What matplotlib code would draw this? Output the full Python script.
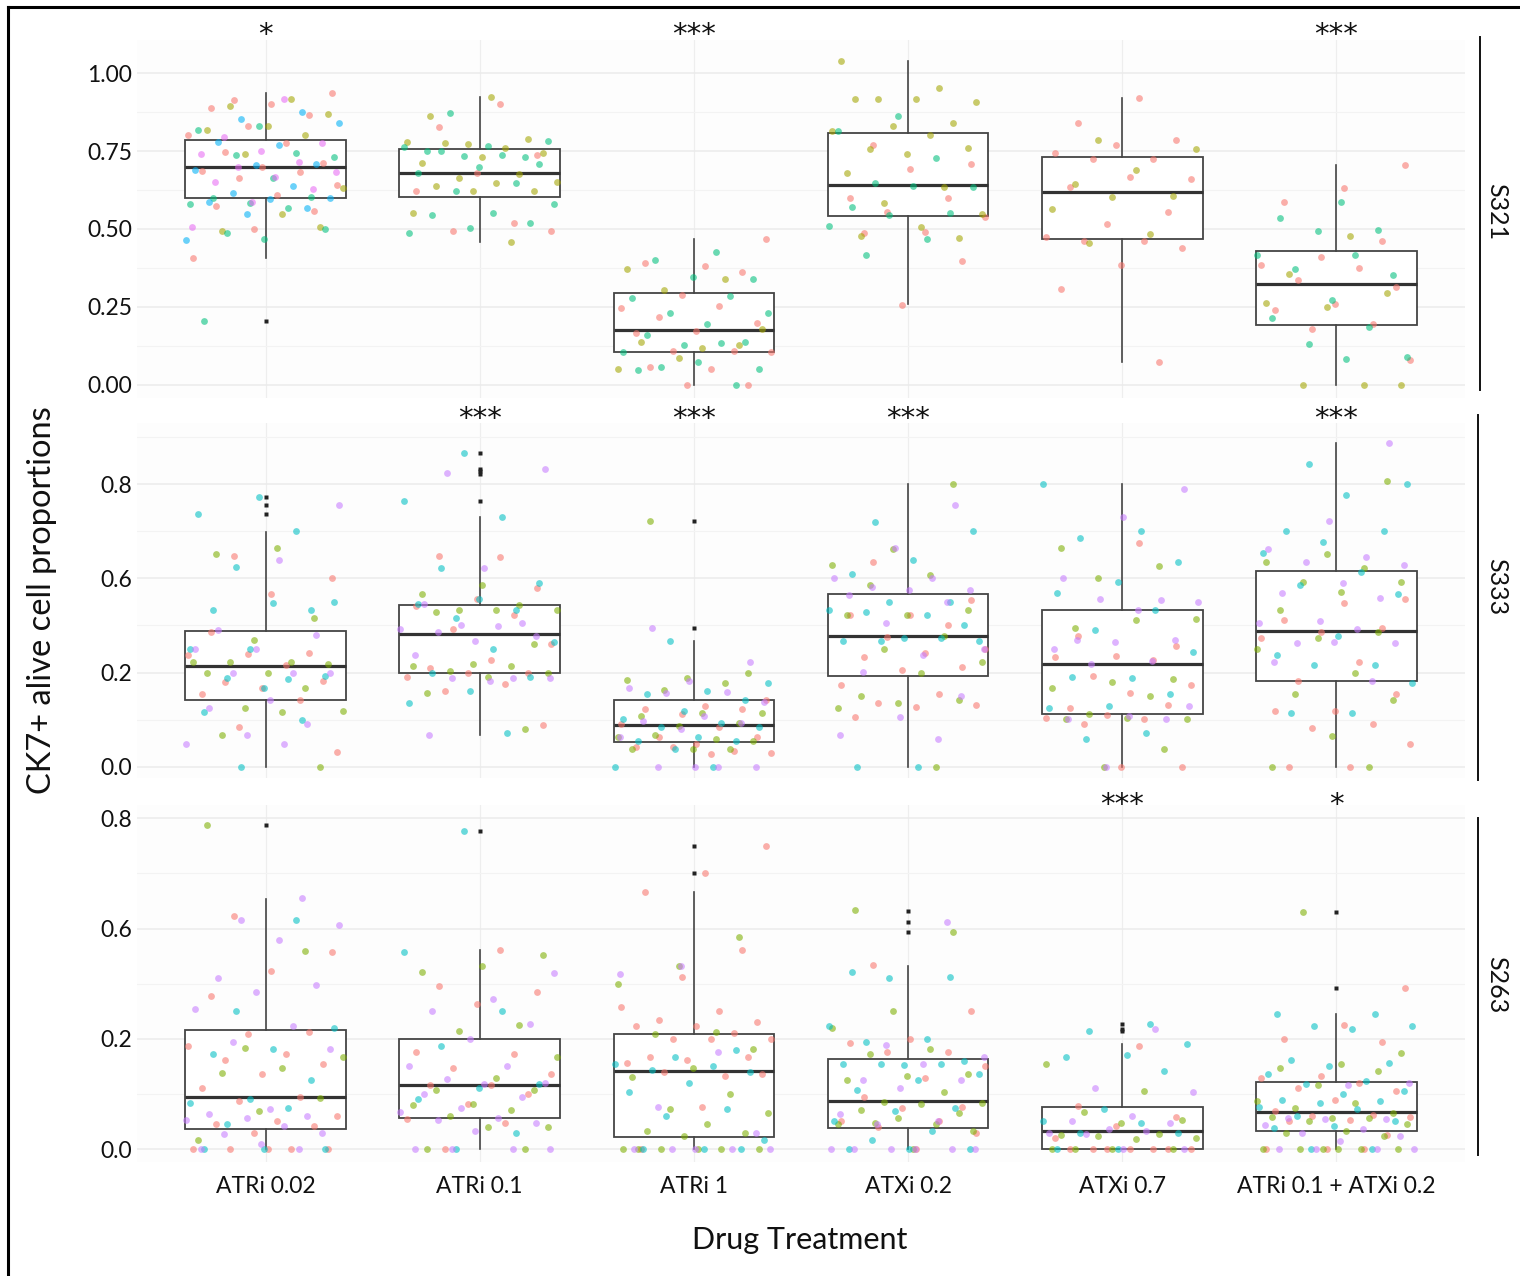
import numpy as np
import matplotlib.pyplot as plt
from matplotlib.lines import Line2D

plt.rcParams['font.family'] = ['Lato', 'DejaVu Sans']

cats = ["ATRi 0.02", "ATRi 0.1", "ATRi 1", "ATXi 0.2", "ATXi 0.7", "ATRi 0.1 + ATXi 0.2"]
panels = ["S321", "S333", "S263"]

# ---- S321 (five replicate colours) ----
s321_red = [
  [0.913, 0.935, 0.90, 0.887, 0.867, 0.83, 0.80, 0.775, 0.748, 0.713, 0.698, 0.686, 0.684, 0.663, 0.642, 0.609, 0.574, 0.558, 0.499, 0.408],
  [0.90, 0.827, 0.738, 0.68, 0.623, 0.518, 0.495, 0.492],
  [0.469, 0.382, 0.39, 0.361, 0.288, 0.246, 0.253, 0.217, 0.20, 0.174, 0.166, 0.11, 0.11, 0.105, 0.052, 0.059, 0.001, 0.001],
  [0.769, 0.707, 0.693, 0.598, 0.598, 0.556, 0.54, 0.489, 0.486, 0.398, 0.256],
  [0.921, 0.84, 0.785, 0.768, 0.744, 0.726, 0.723, 0.659, 0.667, 0.636, 0.556, 0.517, 0.473, 0.46, 0.46, 0.438, 0.384, 0.308, 0.073],
  [0.705, 0.63, 0.587, 0.463, 0.41, 0.384, 0.376, 0.335, 0.313, 0.259, 0.241, 0.194, 0.179, 0.081],
]
s321_olive = [
  [0.917, 0.894, 0.87, 0.83, 0.817, 0.80, 0.742, 0.632, 0.548, 0.495, 0.505],
  [0.924, 0.861, 0.787, 0.772, 0.778, 0.761, 0.777, 0.745, 0.73, 0.71, 0.676, 0.662, 0.652, 0.646, 0.638, 0.623, 0.623, 0.552, 0.457],
  [0.372, 0.339, 0.304, 0.178, 0.119, 0.138, 0.128, 0.087, 0.052],
  [1.038, 0.951, 0.918, 0.906, 0.917, 0.918, 0.84, 0.83, 0.814, 0.80, 0.756, 0.761, 0.742, 0.678, 0.634, 0.582, 0.547, 0.505, 0.478, 0.472],
  [0.784, 0.755, 0.69, 0.644, 0.605, 0.603, 0.564, 0.484, 0.456],
  [0.478, 0.357, 0.294, 0.251, 0.263, 0.001, 0.001, 0.001],
]
s321_green = [
  [0.83, 0.816, 0.745, 0.737, 0.73, 0.662, 0.598, 0.604, 0.584, 0.579, 0.566, 0.486, 0.499, 0.468, 0.205],
  [0.871, 0.783, 0.766, 0.751, 0.732, 0.734, 0.762, 0.738, 0.751, 0.708, 0.70, 0.68, 0.648, 0.623, 0.579, 0.552, 0.546, 0.52, 0.502, 0.486],
  [0.426, 0.40, 0.339, 0.345, 0.278, 0.285, 0.232, 0.232, 0.196, 0.16, 0.139, 0.128, 0.107, 0.135, 0.057, 0.051, 0.075, 0.048, 0.001],
  [0.863, 0.815, 0.729, 0.648, 0.636, 0.639, 0.571, 0.55, 0.544, 0.511, 0.469, 0.416],
  [],
  [0.588, 0.535, 0.496, 0.495, 0.416, 0.416, 0.371, 0.353, 0.272, 0.214, 0.187, 0.13, 0.09, 0.084],
]
s321_blue = [
  [0.876, 0.854, 0.839, 0.77, 0.78, 0.707, 0.706, 0.69, 0.639, 0.614, 0.60, 0.596, 0.588, 0.568, 0.547, 0.465],
  [], [], [], [], [],
]
s321_violet = [
  [0.917, 0.796, 0.777, 0.75, 0.742, 0.716, 0.70, 0.682, 0.668, 0.652, 0.628, 0.588, 0.507],
  [], [], [], [], [],
]
s321_med = [0.70, 0.681, 0.175, 0.64, 0.62, 0.325]
s321_q1 = [0.598, 0.601, 0.106, 0.542, 0.468, 0.192]
s321_q3 = [0.785, 0.757, 0.296, 0.807, 0.73, 0.428]
s321_lo = [0.408, 0.459, 0.0, 0.259, 0.073, 0.0]
s321_hi = [0.935, 0.924, 0.469, 1.038, 0.921, 0.705]
s321_out = [[0.205], [], [], [], [], []]
s321_sig = ["*", "", "***", "", "", "***"]

# ---- S333 (four replicate colours) ----
s333_red = [
  [0.597, 0.534, 0.488, 0.38, 0.321, 0.319, 0.316, 0.287, 0.24, 0.242, 0.223, 0.206, 0.19, 0.113, 0.041],
  [0.594, 0.597, 0.507, 0.476, 0.455, 0.429, 0.39, 0.348, 0.301, 0.28, 0.266, 0.264, 0.254, 0.234, 0.214, 0.117],
  [0.19, 0.173, 0.162, 0.162, 0.148, 0.121, 0.113, 0.083, 0.085, 0.063, 0.057, 0.045, 0.055, 0.04, 0.035],
  [0.58, 0.471, 0.43, 0.429, 0.40, 0.368, 0.333, 0.321, 0.31, 0.281, 0.274, 0.232, 0.206, 0.181, 0.174, 0.169, 0.141],
  [0.632, 0.37, 0.343, 0.313, 0.311, 0.303, 0.256, 0.231, 0.21, 0.165, 0.175, 0.147, 0.139, 0.134, 0.122, 0.0, 0.0],
  [0.475, 0.464, 0.415, 0.393, 0.38, 0.363, 0.296, 0.242, 0.205, 0.157, 0.157, 0.122, 0.11, 0.063, 0.0, 0.0],
]
s333_green = [
  [0.62, 0.601, 0.42, 0.358, 0.295, 0.297, 0.297, 0.29, 0.266, 0.266, 0.223, 0.166, 0.157, 0.155, 0.089, 0.0],
  [0.513, 0.488, 0.457, 0.444, 0.444, 0.443, 0.438, 0.348, 0.292, 0.286, 0.286, 0.272, 0.266, 0.255, 0.209, 0.106],
  [0.696, 0.266, 0.251, 0.245, 0.236, 0.216, 0.151, 0.153, 0.143, 0.124, 0.115, 0.083, 0.077, 0.09, 0.074, 0.049, 0.049, 0.049],
  [0.801, 0.616, 0.571, 0.542, 0.513, 0.445, 0.429, 0.43, 0.371, 0.334, 0.295, 0.266, 0.20, 0.19, 0.181, 0.166, 0.0],
  [0.62, 0.567, 0.534, 0.417, 0.414, 0.394, 0.248, 0.241, 0.222, 0.20, 0.148, 0.134, 0.137, 0.134, 0.051, 0.0],
  [0.809, 0.601, 0.58, 0.563, 0.522, 0.523, 0.494, 0.444, 0.38, 0.364, 0.333, 0.266, 0.205, 0.19, 0.086, 0.0, 0.0],
]
s333_cyan = [
  [0.763, 0.715, 0.667, 0.565, 0.466, 0.464, 0.445, 0.445, 0.333, 0.333, 0.249, 0.25, 0.256, 0.223, 0.154, 0.133, 0.0],
  [0.889, 0.751, 0.707, 0.562, 0.519, 0.476, 0.46, 0.445, 0.422, 0.353, 0.333, 0.266, 0.255, 0.215, 0.179, 0.095],
  [0.356, 0.238, 0.215, 0.205, 0.19, 0.159, 0.134, 0.123, 0.113, 0.111, 0.084, 0.074, 0.074, 0.049, 0.0, 0.0],
  [0.692, 0.668, 0.584, 0.546, 0.467, 0.467, 0.444, 0.429, 0.437, 0.40, 0.364, 0.356, 0.365, 0.356, 0.356, 0.0, 0.0],
  [0.801, 0.668, 0.648, 0.58, 0.522, 0.491, 0.444, 0.386, 0.325, 0.25, 0.254, 0.205, 0.172, 0.166, 0.094, 0.077],
  [0.858, 0.801, 0.768, 0.668, 0.668, 0.636, 0.606, 0.55, 0.513, 0.49, 0.37, 0.317, 0.287, 0.289, 0.236, 0.153, 0.153],
]
s333_purple = [
  [0.741, 0.584, 0.387, 0.372, 0.334, 0.334, 0.266, 0.266, 0.266, 0.19, 0.167, 0.122, 0.089, 0.063, 0.063],
  [0.831, 0.842, 0.562, 0.46, 0.407, 0.40, 0.391, 0.399, 0.381, 0.37, 0.356, 0.316, 0.25, 0.25, 0.25, 0.242, 0.089],
  [0.392, 0.295, 0.242, 0.223, 0.212, 0.21, 0.183, 0.143, 0.13, 0.123, 0.108, 0.085, 0.0, 0.0, 0.0, 0.0],
  [0.741, 0.619, 0.534, 0.534, 0.508, 0.501, 0.501, 0.485, 0.467, 0.406, 0.334, 0.317, 0.267, 0.20, 0.141, 0.089, 0.077],
  [0.786, 0.706, 0.534, 0.473, 0.474, 0.465, 0.444, 0.36, 0.36, 0.352, 0.333, 0.30, 0.292, 0.172, 0.143, 0.134, 0.134, 0.0],
  [0.915, 0.696, 0.616, 0.593, 0.58, 0.571, 0.52, 0.492, 0.477, 0.413, 0.406, 0.391, 0.351, 0.349, 0.352, 0.295, 0.243],
]
s333_med = [0.286, 0.375, 0.117, 0.37, 0.292, 0.385]
s333_q1 = [0.19, 0.264, 0.071, 0.258, 0.148, 0.242]
s333_q3 = [0.385, 0.458, 0.19, 0.488, 0.445, 0.555]
s333_lo = [0.0, 0.09, 0.0, 0.0, 0.0, 0.0]
s333_hi = [0.665, 0.707, 0.356, 0.8, 0.8, 0.915]
s333_out = [[0.763, 0.741, 0.715], [0.889, 0.844, 0.836, 0.83, 0.752], [0.696, 0.392], [], [], []]
s333_sig = ["", "***", "***", "***", "", "***"]

# ---- S263 ----
s263_red = [
  [0.563, 0.476, 0.431, 0.37, 0.283, 0.278, 0.25, 0.23, 0.215, 0.206, 0.182, 0.148, 0.127, 0.117, 0.079, 0.067, 0.06, 0.055, 0.038, 0.0, 0.0, 0.0, 0.0, 0.0],
  [0.482, 0.394, 0.38, 0.351, 0.235, 0.23, 0.197, 0.182, 0.154, 0.154, 0.133, 0.11, 0.074, 0.064, 0.0],
  [0.733, 0.667, 0.621, 0.482, 0.417, 0.344, 0.333, 0.312, 0.307, 0.297, 0.297, 0.282, 0.267, 0.267, 0.266, 0.222, 0.222, 0.215, 0.209, 0.178, 0.186, 0.181, 0.101, 0.0],
  [0.445, 0.333, 0.266, 0.256, 0.236, 0.235, 0.20, 0.172, 0.125, 0.102, 0.099, 0.069, 0.067, 0.054, 0.04, 0.0],
  [0.25, 0.105, 0.077, 0.055, 0.027, 0.0, 0.0, 0.0, 0.0, 0.0, 0.0, 0.0],
  [0.389, 0.299, 0.266, 0.258, 0.177, 0.172, 0.161, 0.149, 0.141, 0.119, 0.093, 0.083, 0.081, 0.078, 0.071, 0.067, 0.035, 0.0, 0.0, 0.0],
]
s263_green = [
  [0.783, 0.478, 0.245, 0.222, 0.197, 0.185, 0.123, 0.093, 0.023],
  [0.47, 0.444, 0.428, 0.30, 0.285, 0.222, 0.173, 0.143, 0.143, 0.11, 0.106, 0.095, 0.079, 0.054, 0.053, 0.0, 0.0],
  [0.513, 0.444, 0.40, 0.284, 0.278, 0.242, 0.196, 0.174, 0.133, 0.098, 0.088, 0.06, 0.044, 0.04, 0.032, 0.0, 0.0, 0.0, 0.0, 0.0, 0.0],
  [0.577, 0.525, 0.333, 0.294, 0.243, 0.231, 0.181, 0.177, 0.167, 0.139, 0.115, 0.111, 0.109, 0.095, 0.088, 0.075, 0.06, 0.06, 0.063, 0.044, 0.0],
  [0.206, 0.14, 0.091, 0.071, 0.063, 0.035, 0.036, 0.031, 0.028, 0.025, 0.0, 0.0, 0.0, 0.0],
  [0.574, 0.233, 0.206, 0.196, 0.19, 0.154, 0.117, 0.111, 0.099, 0.087, 0.075, 0.077, 0.075, 0.069, 0.06, 0.044, 0.039, 0.031, 0.0, 0.0, 0.0, 0.0, 0.0, 0.0],
]
s263_cyan = [
  [0.555, 0.333, 0.292, 0.243, 0.231, 0.167, 0.122, 0.111, 0.099, 0.061, 0.0, 0.0, 0.0],
  [0.769, 0.476, 0.333, 0.25, 0.157, 0.148, 0.121, 0.039, 0.0],
  [0.24, 0.222, 0.206, 0.20, 0.192, 0.186, 0.16, 0.139, 0.098, 0.079, 0.022, 0.0, 0.0, 0.0],
  [0.429, 0.417, 0.415, 0.297, 0.266, 0.26, 0.214, 0.204, 0.206, 0.206, 0.206, 0.181, 0.167, 0.142, 0.099, 0.093, 0.067, 0.045, 0.022, 0.0, 0.0, 0.0],
  [0.303, 0.286, 0.254, 0.228, 0.222, 0.19, 0.098, 0.069, 0.063, 0.039, 0.039, 0.0, 0.0],
  [0.326, 0.327, 0.297, 0.297, 0.29, 0.215, 0.209, 0.202, 0.181, 0.165, 0.157, 0.141, 0.133, 0.119, 0.117, 0.111, 0.103, 0.098, 0.079, 0.067, 0.055, 0.052, 0.0, 0.0],
]
s263_purple = [
  [0.606, 0.555, 0.541, 0.505, 0.413, 0.397, 0.38, 0.339, 0.297, 0.26, 0.242, 0.097, 0.085, 0.081, 0.075, 0.07, 0.057, 0.037, 0.038, 0.012, 0.0, 0.0],
  [0.425, 0.364, 0.333, 0.303, 0.266, 0.202, 0.202, 0.17, 0.161, 0.157, 0.133, 0.127, 0.099, 0.091, 0.075, 0.071, 0.063, 0.044, 0.0, 0.0, 0.0, 0.0],
  [0.444, 0.424, 0.236, 0.102, 0.038, 0.0, 0.0, 0.0, 0.0, 0.0],
  [0.549, 0.251, 0.222, 0.206, 0.167, 0.167, 0.148, 0.084, 0.069, 0.06, 0.0, 0.0, 0.0, 0.0, 0.0, 0.0],
  [0.29, 0.148, 0.139, 0.081, 0.067, 0.063, 0.048, 0.039, 0.043, 0.036, 0.0, 0.0],
  [0.159, 0.156, 0.075, 0.074, 0.073, 0.059, 0.048, 0.04, 0.031, 0.02, 0.0, 0.0, 0.0, 0.0],
]
s263_med = [0.127, 0.154, 0.188, 0.117, 0.043, 0.09]
s263_q1 = [0.048, 0.075, 0.03, 0.05, 0.0, 0.044]
s263_q3 = [0.287, 0.266, 0.279, 0.219, 0.101, 0.162]
s263_lo = [0.0, 0.0, 0.0, 0.0, 0.0, 0.0]
s263_hi = [0.605, 0.482, 0.621, 0.443, 0.254, 0.326]
s263_out = [[0.783], [0.769], [0.733, 0.667], [0.576, 0.549, 0.525], [0.303, 0.29, 0.286], [0.574, 0.389]]
s263_sig = ["", "", "", "", "***", "*"]

pal5 = ['#F8766D', '#A3A500', '#00BF7D', '#00B0F6', '#E76BF3']
pal4 = ['#F8766D', '#7CAE00', '#00BFC4', '#C77CFF']


def jitter(n, start):
  k = np.arange(start, start + n)
  return ((k * 0.6180339887 + 0.3) % 1.0 - 0.5) * 0.74


def draw_panel(ax, groups, pal, med, q1, q3, lo, hi, out, sig, ylim, ticks, labels, minor, star_y):
  ax.set_facecolor('#fdfdfd')
  stats = []
  for i in range(len(cats)):
    stats.append(dict(med=med[i], q1=q1[i], q3=q3[i], whislo=lo[i], whishi=hi[i], fliers=out[i]))
  ax.bxp(stats, positions=range(1, 7), widths=0.75, patch_artist=True, showcaps=False,
         boxprops=dict(facecolor='white', edgecolor='#444444', linewidth=1.3),
         medianprops=dict(color='#333333', linewidth=2.3),
         whiskerprops=dict(color='#444444', linewidth=1.2),
         flierprops=dict(marker='s', markersize=2.6, markerfacecolor='#222222', markeredgecolor='none'),
         zorder=2)

  for i in range(len(cats)):
    n = 0
    for g, col in zip(groups, pal):
      vals = g[i]
      if len(vals) == 0:
        continue
      xs = i + 1 + jitter(len(vals), n + 7 * i)
      n += len(vals)
      ax.scatter(xs, vals, s=24, color=col, alpha=0.58, linewidths=0, zorder=3)
    if sig[i]:
      ax.text(i + 1, star_y, sig[i], ha='center', va='baseline', fontsize=21,
              family='DejaVu Sans', clip_on=False, color='#111111')

  ax.set_xlim(0.4, 6.6)
  ax.set_ylim(*ylim)
  ax.set_xticks(range(1, 7))
  ax.set_yticks(ticks)
  ax.set_yticklabels(labels)
  ax.set_yticks(minor, minor=True)
  ax.grid(axis='y', which='major', color='#ebebeb', linewidth=1.1, zorder=0)
  ax.grid(axis='y', which='minor', color='#f3f3f3', linewidth=0.8, zorder=0)
  ax.grid(axis='x', which='major', color='#eeeeee', linewidth=0.9, zorder=0)
  ax.set_axisbelow(True)
  for sp in ax.spines.values():
    sp.set_visible(False)
  ax.tick_params(axis='both', which='both', length=0, labelsize=16.5, colors='#111111')
  ax.tick_params(axis='y', pad=3.5)


W, H = 1520, 1276
fig = plt.figure(figsize=(W / 100, H / 100), dpi=100)

left = 137 / W
width = 1328 / W
boxes = [(40, 398), (423, 778), (805, 1162)]
axes = []
for top, bot in boxes:
  axes.append(fig.add_axes([left, 1 - bot / H, width, (bot - top) / H]))

third = 0.8 / 3
mid_ticks = [0, third, 2 * third, 0.8]
mid_labels = ["0.0", "0.2", "0.6", "0.8"]
mid_minor = [third / 2, third * 1.5, third * 2.5, third * 3.5]

draw_panel(axes[0], [s321_red, s321_olive, s321_green, s321_blue, s321_violet], pal5,
           s321_med, s321_q1, s321_q3, s321_lo, s321_hi, s321_out, s321_sig,
           (-0.042, 1.106), [0, 0.25, 0.5, 0.75, 1.0], ["0.00", "0.25", "0.50", "0.75", "1.00"],
           [0.125, 0.375, 0.625, 0.875], 1.096)
draw_panel(axes[1], [s333_red, s333_green, s333_cyan, s333_purple], pal4,
           s333_med, s333_q1, s333_q3, s333_lo, s333_hi, s333_out, s333_sig,
           (-0.032, 0.973), mid_ticks, mid_labels, mid_minor, 0.961)
draw_panel(axes[2], [s263_red, s263_green, s263_cyan, s263_purple], pal4,
           s263_med, s263_q1, s263_q3, s263_lo, s263_hi, s263_out, s263_sig,
           (-0.031, 0.832), mid_ticks, mid_labels, mid_minor[:3], 0.813)

for ax in axes[:2]:
  ax.set_xticklabels([])
axes[2].set_xticklabels(cats)
axes[2].tick_params(axis='x', pad=10)

# facet strips
strips = [(1480, 37, 390, 212), (1478, 415, 780, 587), (1478, 818, 1155, 985)]
for name, (sx, y0, y1, yc) in zip(panels, strips):
  fig.add_artist(Line2D([sx / W, sx / W], [1 - y0 / H, 1 - y1 / H], color='#111111', linewidth=1.4))
  fig.text(1497 / W, 1 - yc / H, name, rotation=270, ha='center', va='center', fontsize=18, color='#111111')

fig.text(42 / W, 1 - 600 / H, "CK7+ alive cell proportions", rotation=90, ha='center', va='center', fontsize=23.5, color='#111111')
fig.text(800 / W, 1 - 1240 / H, "Drug Treatment", ha='center', va='center', fontsize=22, color='#111111')

# outer frame (left and top edges visible)
fig.add_artist(Line2D([8 / W, 8 / W], [0, 1 - 7 / H], color='black', linewidth=2.2))
fig.add_artist(Line2D([8 / W, 1], [1 - 7 / H, 1 - 7 / H], color='black', linewidth=2.2))

fig.savefig("out.png", dpi=100)
